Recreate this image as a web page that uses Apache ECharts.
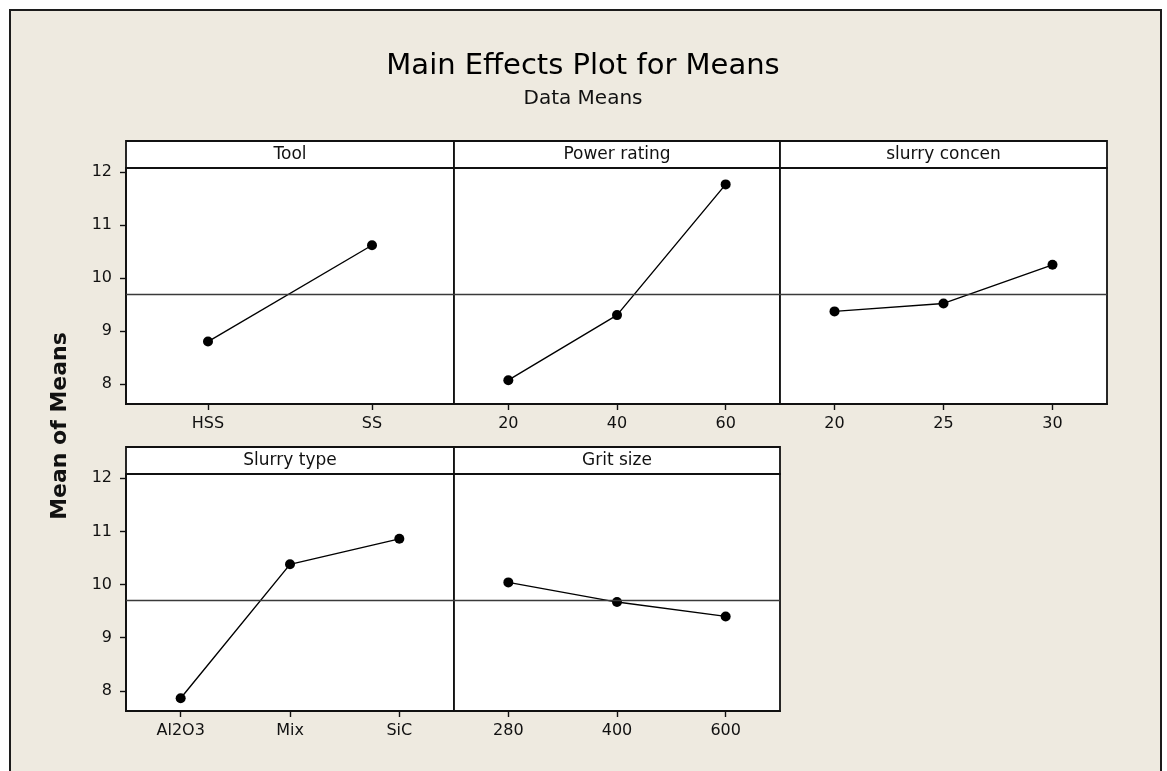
<!DOCTYPE html>
<html>
<head>
<meta charset="utf-8">
<title>Main Effects Plot for Means</title>
<script src="https://cdn.jsdelivr.net/npm/echarts@6/dist/echarts.min.js"></script>
<style>
  html, body { margin: 0; padding: 0; background: #ffffff; }
  #frame {
    position: absolute; left: 9px; top: 9px; width: 1149px; height: 800px;
    background: #EEEAE0; border: 2px solid #1c1c1c;
  }
  #chart { position: absolute; left: 0; top: 0; width: 1167px; height: 771px; }
</style>
</head>
<body>
<div id="frame"></div>
<div id="chart"></div>
<script>
// Factor names and their level means
const factorNames = ['Tool', 'Power rating', 'slurry concen', 'Slurry type', 'Grit size'];

const toolLevels = ['HSS', 'SS'];
const toolMeans = [8.80, 10.62];

const powerLevels = ['20', '40', '60'];
const powerMeans = [8.07, 9.30, 11.77];

const concenLevels = ['20', '25', '30'];
const concenMeans = [9.37, 9.52, 10.25];

const slurryLevels = ['Al2O3', 'Mix', 'SiC'];
const slurryMeans = [7.86, 10.38, 10.86];

const gritLevels = ['280', '400', '600'];
const gritMeans = [10.04, 9.67, 9.40];

// Overall mean (reference line) and the shared response scale
const grandMean = 9.70;
const yTicks = [8, 9, 10, 11, 12];
const yMin = 7.62;
const yMax = 12.08;

const levelSets = [toolLevels, powerLevels, concenLevels, slurryLevels, gritLevels];
const meanSets = [toolMeans, powerMeans, concenMeans, slurryMeans, gritMeans];

// Panel layout (pixels)
const panels = [
  { left: 126, top: 168, width: 328, height: 236 },
  { left: 454, top: 168, width: 326, height: 236 },
  { left: 780, top: 168, width: 327, height: 236 },
  { left: 126, top: 474, width: 328, height: 237 },
  { left: 454, top: 474, width: 326, height: 237 }
];
const stripH = 27;
const FONT = '"DejaVu Sans", Verdana, sans-serif';
const INK = '#111111';

const grids = [], xAxes = [], yAxes = [], series = [], graphics = [];

panels.forEach((p, i) => {
  const showY = (i === 0 || i === 3);
  grids.push({
    left: p.left, top: p.top, width: p.width, height: p.height,
    show: true, backgroundColor: '#ffffff', borderColor: INK, borderWidth: 1.8,
    containLabel: false
  });
  xAxes.push({
    type: 'category', gridIndex: i, data: levelSets[i], boundaryGap: true,
    axisLine: { show: true, lineStyle: { color: INK, width: 1.8 } },
    axisTick: { show: true, alignWithLabel: true, length: 6, lineStyle: { color: INK, width: 1.4 } },
    axisLabel: { show: true, margin: 12, color: '#111111', fontFamily: FONT, fontSize: 16 },
    splitLine: { show: false }
  });
  yAxes.push({
    type: 'value', gridIndex: i, min: yMin, max: yMax,
    axisLine: { show: showY, lineStyle: { color: INK, width: 1.8 } },
    axisTick: { show: showY, length: 6, customValues: yTicks, lineStyle: { color: INK, width: 1.4 } },
    axisLabel: { show: showY, margin: 14, customValues: yTicks, color: '#111111', fontFamily: FONT, fontSize: 16 },
    splitLine: { show: false }
  });
  series.push({
    type: 'line', xAxisIndex: i, yAxisIndex: i,
    data: meanSets[i],
    symbol: 'circle', symbolSize: 10,
    itemStyle: { color: '#000000' },
    lineStyle: { color: '#000000', width: 1.4 },
    animation: false, silent: true,
    markLine: {
      silent: true, symbol: 'none', animation: false,
      label: { show: false },
      lineStyle: { color: '#3a3a3a', width: 1.3, type: 'solid' },
      data: [{ yAxis: grandMean }]
    }
  });
  // factor header strip above each panel
  graphics.push({
    type: 'rect',
    shape: { x: p.left, y: p.top - stripH, width: p.width, height: stripH },
    style: { fill: '#ffffff', stroke: INK, lineWidth: 1.8 },
    z: 10
  });
  graphics.push({
    type: 'text',
    x: p.left + p.width / 2, y: p.top - stripH / 2,
    style: {
      text: factorNames[i], fill: '#111111', font: '17px ' + FONT,
      textAlign: 'center', textVerticalAlign: 'middle'
    },
    z: 11
  });
});

// Titles and response label
graphics.push({
  type: 'text', x: 583, y: 66,
  style: { text: 'Main Effects Plot for Means', fill: '#000000', font: '29px ' + FONT,
           textAlign: 'center', textVerticalAlign: 'middle' }
});
graphics.push({
  type: 'text', x: 583, y: 99,
  style: { text: 'Data Means', fill: '#111111', font: '20px ' + FONT,
           textAlign: 'center', textVerticalAlign: 'middle' }
});
graphics.push({
  type: 'text', x: 60, y: 426, rotation: Math.PI / 2,
  style: { text: 'Mean of Means', fill: '#111111', font: 'bold 22px ' + FONT,
           textAlign: 'center', textVerticalAlign: 'middle' }
});

const chart = echarts.init(document.getElementById('chart'), null, { renderer: 'canvas' });
chart.setOption({
  backgroundColor: 'transparent',
  animation: false,
  grid: grids,
  xAxis: xAxes,
  yAxis: yAxes,
  series: series,
  graphic: graphics
});
</script>
</body>
</html>
